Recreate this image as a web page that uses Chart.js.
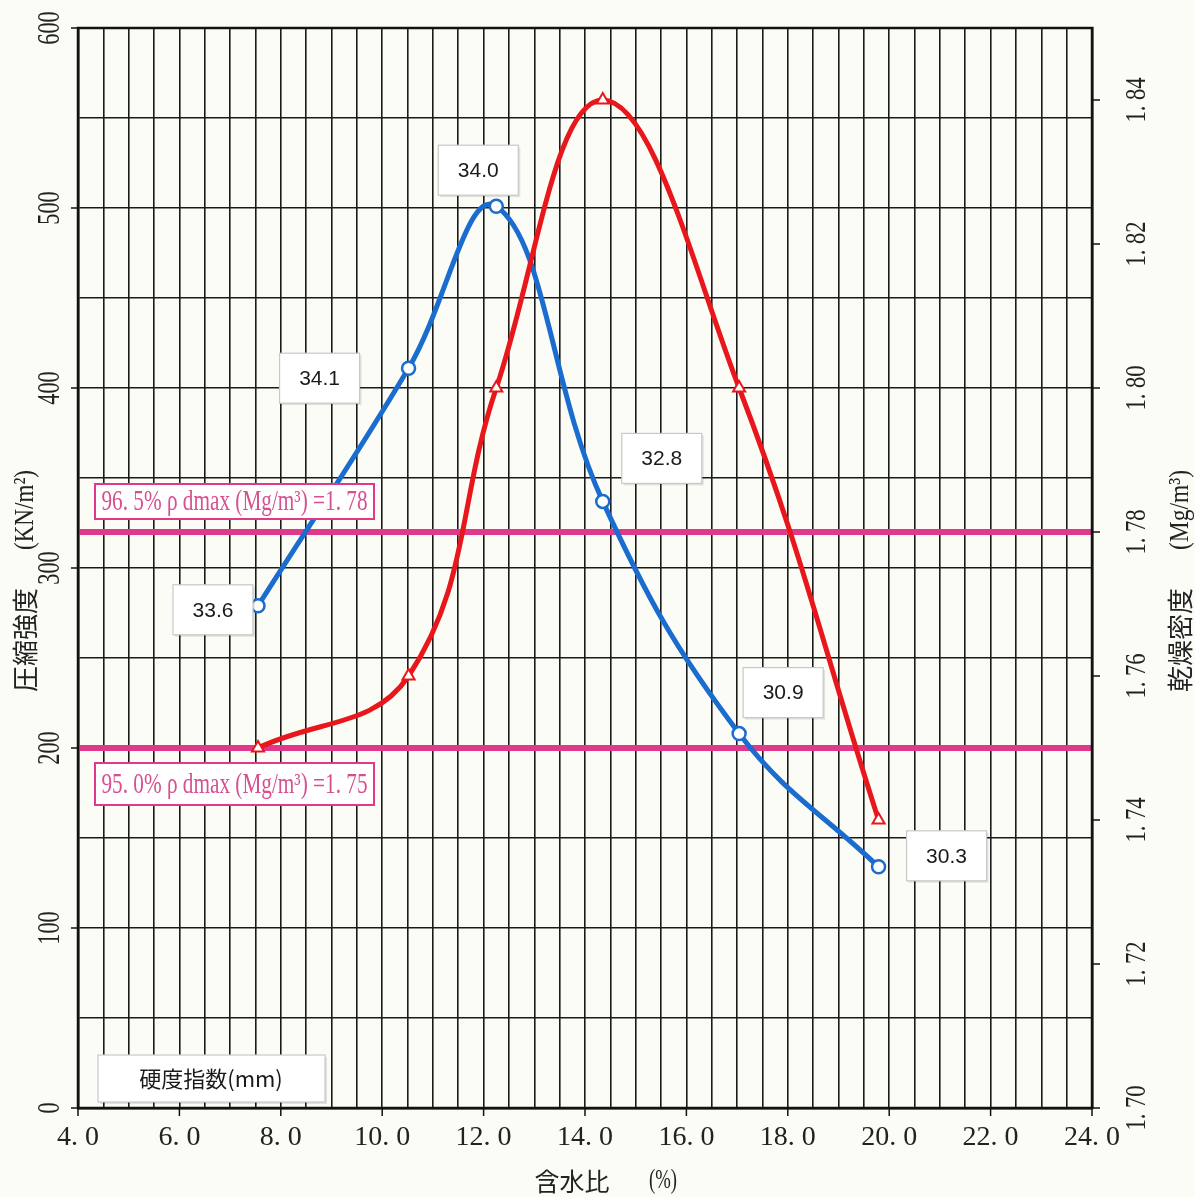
<!DOCTYPE html>
<html><head><meta charset="utf-8">
<script src="https://cdn.jsdelivr.net/npm/chart.js@4.4.0/dist/chart.umd.min.js"></script>
<style>html,body{margin:0;padding:0;background:#fcfcf6;}#wrap{width:1195px;height:1197px;}</style>
</head><body><div id="wrap"><canvas id="c" width="1195" height="1197"></canvas></div>
<script>
// ---- data ----
const waterContent = [7.55, 10.52, 12.25, 14.35, 17.04, 19.79];
const compressiveStrength = [279, 411, 501, 337, 208, 134];
const dryDensity = [1.75, 1.76, 1.80, 1.84, 1.80, 1.74];
const hardnessIndex = ['33.6', '34.1', '34.0', '32.8', '30.9', '30.3'];
const xTickValues = [4, 6, 8, 10, 12, 14, 16, 18, 20, 22, 24];
const xTickLabels = ['4. 0', '6. 0', '8. 0', '10. 0', '12. 0', '14. 0', '16. 0', '18. 0', '20. 0', '22. 0', '24. 0'];
const leftTickValues = [0, 100, 200, 300, 400, 500, 600];
const leftTickLabels = ['0', '100', '200', '300', '400', '500', '600'];
const rightTickValues = [1.70, 1.72, 1.74, 1.76, 1.78, 1.80, 1.82, 1.84];
const rightTickLabels = ['1. 70', '1. 72', '1. 74', '1. 76', '1. 78', '1. 80', '1. 82', '1. 84'];
const refDensity = [1.78, 1.75];
const refLabels = ['96. 5% \u03C1 dmax (Mg/m\u00B3) =1. 78', '95. 0% \u03C1 dmax (Mg/m\u00B3) =1. 75'];

// ---- styles ----
const BLUE = '#1b6ccf', RED = '#e8171c', PINK = '#e0388a', PINK_TXT = '#d6508f', GRID = '#1a1a1a';
const SERIF = '"Liberation Serif", "Noto Sans CJK JP", serif';
const CJK = '"Noto Sans CJK JP", sans-serif';
const labelOffsets = [[-45, 4], [-89, 10], [-18, -36], [59, -43], [44, -41], [68, -11]];

function txt(ctx, s, x, y, font, color, rot, sx, align) {
  ctx.save();
  ctx.translate(x, y);
  ctx.rotate(rot || 0);
  ctx.scale(sx || 1, 1);
  ctx.font = font; ctx.fillStyle = color;
  ctx.textAlign = align || 'center'; ctx.textBaseline = 'middle';
  ctx.fillText(s, 0, 0);
  ctx.restore();
}
function fitTxt(ctx, s, x, y, font, color, w, rot) {
  ctx.save(); ctx.font = font; const m = ctx.measureText(s).width; ctx.restore();
  txt(ctx, s, x, y, font, color, rot, w / m);
}

const bgPlugin = {
  id: 'bg',
  beforeDraw(chart) {
    const ctx = chart.ctx;
    ctx.save(); ctx.fillStyle = '#fcfcf6'; ctx.fillRect(0, 0, chart.width, chart.height); ctx.restore();
  },
  beforeDatasetsDraw(chart) {
    const ctx = chart.ctx, a = chart.chartArea, y2 = chart.scales.y2;
    ctx.save();
    ctx.strokeStyle = PINK; ctx.lineWidth = 6;
    refDensity.forEach(v => {
      const py = y2.getPixelForValue(v);
      ctx.beginPath(); ctx.moveTo(a.left, py); ctx.lineTo(a.right, py); ctx.stroke();
    });
    ctx.restore();
  },
  afterDatasetsDraw(chart) {
    const ctx = chart.ctx, a = chart.chartArea, y2 = chart.scales.y2;
    // reference line labels
    refDensity.forEach((v, i) => {
      const py = y2.getPixelForValue(v);
      const top = i === 0 ? py - 48 : py + 15;
      const h = i === 0 ? 35 : 42;
      ctx.save();
      ctx.fillStyle = '#fff'; ctx.fillRect(a.left + 17, top, 279, h);
      ctx.strokeStyle = PINK; ctx.lineWidth = 2; ctx.strokeRect(a.left + 17, top, 279, h);
      ctx.restore();
      fitTxt(ctx, refLabels[i], a.left + 17 + 139.5, top + h / 2 + 1, '29px ' + SERIF, PINK_TXT, 266);
    });
    // hardness index labels
    const meta = chart.getDatasetMeta(1);
    meta.data.forEach((pt, i) => {
      const cx = pt.x + labelOffsets[i][0], cy = pt.y + labelOffsets[i][1];
      ctx.save();
      ctx.fillStyle = 'rgba(0,0,0,0.10)'; ctx.fillRect(cx - 40 + 2, cy - 25 + 2, 80, 50);
      ctx.fillStyle = '#fff'; ctx.fillRect(cx - 40, cy - 25, 80, 50);
      ctx.strokeStyle = '#c8c8c8'; ctx.lineWidth = 1.2; ctx.strokeRect(cx - 40, cy - 25, 80, 50);
      ctx.restore();
      txt(ctx, hardnessIndex[i], cx, cy + 1, '21px "Liberation Sans", Arial, sans-serif', '#1a1a1a');
    });
    // legend-like box
    ctx.save();
    const bx = a.left + 20, by = a.bottom - 53;
    ctx.fillStyle = 'rgba(0,0,0,0.10)'; ctx.fillRect(bx + 2, by + 2, 227, 47);
    ctx.fillStyle = '#fff'; ctx.fillRect(bx, by, 227, 47);
    ctx.strokeStyle = '#c8c8c8'; ctx.lineWidth = 1.2; ctx.strokeRect(bx, by, 227, 47);
    ctx.restore();
    txt(ctx, '硬度指数(mm)', bx + 113, by + 24, '22px ' + CJK, '#1a1a1a');
  },
  afterDraw(chart) {
    const ctx = chart.ctx, a = chart.chartArea, x = chart.scales.x, y = chart.scales.y, y2 = chart.scales.y2;
    ctx.save();
    ctx.strokeStyle = '#111'; ctx.lineWidth = 2.5;
    ctx.strokeRect(a.left, a.top, a.right - a.left, a.bottom - a.top);
    ctx.lineWidth = 1.5;
    leftTickValues.forEach(v => { const p = y.getPixelForValue(v); ctx.beginPath(); ctx.moveTo(a.left - 7, p); ctx.lineTo(a.left, p); ctx.stroke(); });
    xTickValues.forEach(v => { const p = x.getPixelForValue(v); ctx.beginPath(); ctx.moveTo(p, a.bottom); ctx.lineTo(p, a.bottom + 8); ctx.stroke(); });
    rightTickValues.forEach(v => { const p = y2.getPixelForValue(v); ctx.beginPath(); ctx.moveTo(a.right, p); ctx.lineTo(a.right + 8, p); ctx.stroke(); });
    ctx.restore();
    const R = -Math.PI / 2;
    xTickValues.forEach((v, i) => txt(ctx, xTickLabels[i], x.getPixelForValue(v), a.bottom + 30, '28px ' + SERIF, '#222'));
    leftTickValues.forEach((v, i) => txt(ctx, leftTickLabels[i], a.left - 27, y.getPixelForValue(v), '32px ' + SERIF, '#222', R, 0.7));
    rightTickValues.forEach((v, i) => txt(ctx, rightTickLabels[i], a.right + 45, y2.getPixelForValue(v), '29px ' + SERIF, '#222', R, 0.78));
    // axis titles
    txt(ctx, '含水比', 572, 1181, '25px ' + CJK, '#222');
    fitTxt(ctx, '(%)', 663, 1181, '28px ' + SERIF, '#222', 28);
    txt(ctx, '圧縮強度', 25, 640, '26px ' + CJK, '#222', R);
    fitTxt(ctx, '(KN/m\u00B2)', 26, 510, '28px ' + SERIF, '#222', 80, R);
    txt(ctx, '乾燥密度', 1180, 640, '26px ' + CJK, '#222', R);
    fitTxt(ctx, '(Mg/m\u00B3)', 1181, 510, '28px ' + SERIF, '#222', 80, R);
  }
};

new Chart(document.getElementById('c'), {
  type: 'line',
  data: {
    datasets: [
      {
        label: '乾燥密度', yAxisID: 'y2',
        data: waterContent.map((v, i) => ({ x: v, y: dryDensity[i] })),
        borderColor: RED, borderWidth: 5, tension: 0.4, fill: false,
        pointStyle: 'triangle', pointRadius: 7, pointBackgroundColor: '#fff',
        pointBorderColor: RED, pointBorderWidth: 2
      },
      {
        label: '圧縮強度', yAxisID: 'y',
        data: waterContent.map((v, i) => ({ x: v, y: compressiveStrength[i] })),
        borderColor: BLUE, borderWidth: 5, tension: 0.4, fill: false,
        pointStyle: 'circle', pointRadius: 6.5, pointBackgroundColor: '#fff',
        pointBorderColor: BLUE, pointBorderWidth: 2.5
      }
    ]
  },
  options: {
    responsive: false, animation: false, devicePixelRatio: 1,
    layout: { padding: { top: 28, left: 0, right: 0, bottom: 0 } },
    plugins: { legend: { display: false }, tooltip: { enabled: false } },
    scales: {
      x: {
        type: 'linear', min: 4, max: 24,
        ticks: { stepSize: 0.5, display: false, autoSkip: false },
        grid: { color: GRID, lineWidth: 1.6, drawTicks: false },
        border: { display: true, color: '#111', width: 2.5 },
        afterFit(s) { s.height = 89; }
      },
      y: {
        position: 'left', min: 0, max: 600,
        ticks: { stepSize: 50, display: false },
        grid: { color: GRID, lineWidth: 1.6, drawTicks: false },
        border: { display: true, color: '#111', width: 2.5 },
        afterFit(s) { s.width = 78; }
      },
      y2: {
        position: 'right', min: 1.70, max: 1.85,
        ticks: { display: false },
        grid: { display: false, drawTicks: false },
        border: { display: true, color: '#111', width: 2.5 },
        afterFit(s) { s.width = 103; }
      }
    }
  },
  plugins: [bgPlugin]
});
</script>
</body></html>
